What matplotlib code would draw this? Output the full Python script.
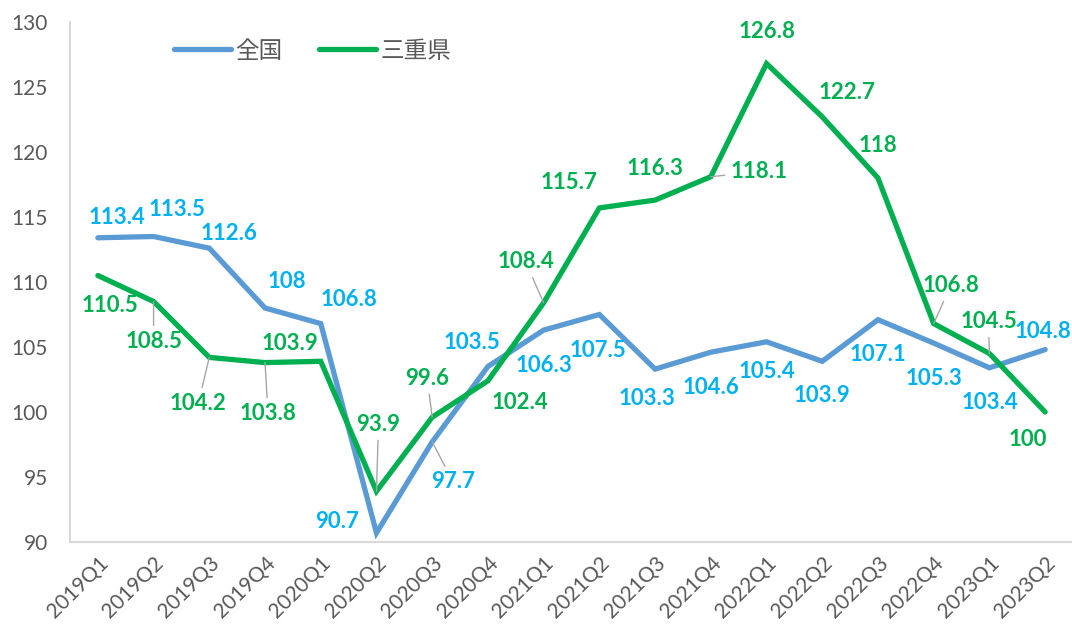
import numpy as np
import matplotlib
matplotlib.use("Agg")
import matplotlib.pyplot as plt

# データ
quarters = ["2019Q1", "2019Q2", "2019Q3", "2019Q4", "2020Q1", "2020Q2",
            "2020Q3", "2020Q4", "2021Q1", "2021Q2", "2021Q3", "2021Q4",
            "2022Q1", "2022Q2", "2022Q3", "2022Q4", "2023Q1", "2023Q2"]
zenkoku = [113.4, 113.5, 112.6, 108, 106.8, 90.7, 97.7, 103.5, 106.3,
           107.5, 103.3, 104.6, 105.4, 103.9, 107.1, 105.3, 103.4, 104.8]
mie = [110.5, 108.5, 104.2, 103.8, 103.9, 93.9, 99.6, 102.4, 108.4,
       115.7, 116.3, 118.1, 126.8, 122.7, 118, 106.8, 104.5, 100]
series_names = ["全国", "三重県"]
y_ticks = [90, 95, 100, 105, 110, 115, 120, 125, 130]

# ラベル位置 (ピクセル単位のオフセット) と引き出し線の有無
zenkoku_offsets = [(19, 20), (23, 27), (20, 15), (22, 27), (28, 24), (-39, 11),
                   (21, -40), (-16, 24), (0, -35), (-1, -36), (-8, -29), (0, -35),
                   (0, -30), (0, -34), (0, -35), (0, -35), (0, -35), (-2, 18)]
zenkoku_leader = {6}
mie_offsets = [(12, -30), (0, -40), (-11, -46), (3, -51), (-31, 18), (2, 67),
               (-5, 39), (32, -22), (-18, 41), (-30, 25), (0, 32), (48, 5),
               (1, 32), (25, 24), (0, 32), (17, 38), (-1, 32), (-17, -28)]
mie_leader = {1, 2, 3, 5, 6, 8, 11, 15, 16}

line_colors = ["#5B9BD5", "#00B050"]
label_colors = ["#00B0F0", "#00B050"]
gray = "#595959"
num_font = ["Lato", "DejaVu Sans"]
cjk_font = ["Noto Sans CJK JP", "DejaVu Sans"]

fig = plt.figure(figsize=(10.72, 6.27), dpi=100)
ax = fig.add_axes([70 / 1072, 85 / 627, 1003 / 1072, 520 / 627])

x = np.arange(len(quarters))
for vals, lc, tc, offs, leaders, name in [
        (zenkoku, line_colors[0], label_colors[0], zenkoku_offsets, zenkoku_leader, series_names[0]),
        (mie, line_colors[1], label_colors[1], mie_offsets, mie_leader, series_names[1])]:
    ax.plot(x, vals, color=lc, lw=3.8, solid_joinstyle="miter", solid_capstyle="round", label=name)
    for i, v in enumerate(vals):
        props = None
        if i in leaders:
            props = dict(arrowstyle="-", color="#A6A6A6", lw=1.0, shrinkA=2, shrinkB=0)
        ax.annotate(f"{v:g}", (x[i], v), xytext=offs[i], textcoords="offset pixels",
                    ha="center", va="center", color=tc, fontsize=16,
                    fontweight="bold", family=num_font, arrowprops=props,
                    annotation_clip=False)

ax.set_xlim(-0.5, len(quarters) - 0.5)
ax.set_ylim(90, 130)
ax.set_yticks(y_ticks)
ax.set_yticklabels([str(t) for t in y_ticks], family=num_font, fontsize=15, color=gray)
ax.set_xticks(x)
ax.set_xticklabels(quarters, rotation=45, ha="right", rotation_mode="anchor",
                   family=num_font, fontsize=15, color=gray)
ax.tick_params(axis="y", length=0, pad=16)
ax.tick_params(axis="x", length=0, pad=8)

for s in ["top", "right"]:
    ax.spines[s].set_visible(False)
for s in ["left", "bottom"]:
    ax.spines[s].set_color("#D9D9D9")
    ax.spines[s].set_linewidth(1.5)

leg = ax.legend(loc="center left", bbox_to_anchor=(174 / 1072, 1 - 51 / 627),
                bbox_transform=fig.transFigure, ncol=2, frameon=False,
                prop={"family": cjk_font, "size": 17}, handlelength=2.4,
                handletextpad=0.2, columnspacing=1.55, borderpad=0, borderaxespad=0)
for t in leg.get_texts():
    t.set_color(gray)

fig.savefig("out.png", dpi=100)
